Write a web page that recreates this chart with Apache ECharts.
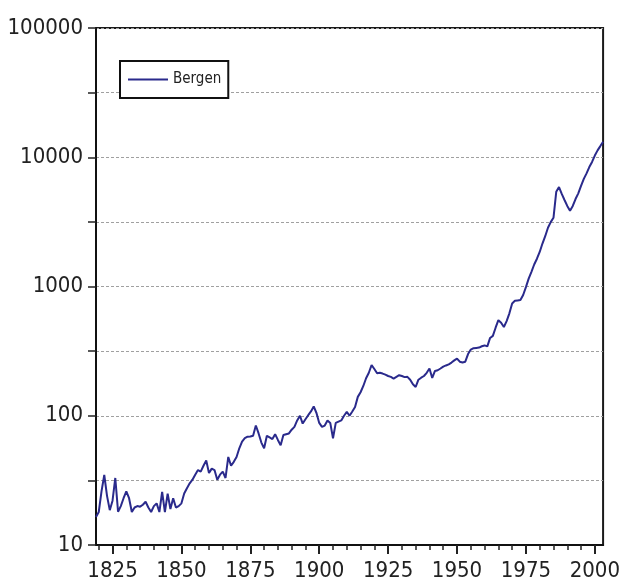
<!DOCTYPE html>
<html>
<head>
<meta charset="utf-8">
<script src="https://cdn.jsdelivr.net/npm/echarts@6/dist/echarts.min.js"></script>
<style>
html,body{margin:0;padding:0;background:#fff;}
#c{width:623px;height:586px;}
</style>
</head>
<body>
<div id="c"></div>
<script>
const seriesName = 'Bergen';
const startYear = 1819;
const values = [
  16.5, 18, 26, 34.8, 24, 18.6, 22, 33, 18.1, 20,
  23, 26, 23, 18, 19.5, 20, 19.8, 20.5, 21.6, 19.5,
  18, 20, 21, 18, 25.8, 18, 25, 19, 23, 19.5,
  20, 21, 25, 27.5, 30, 32, 35, 38, 37, 41,
  45, 36, 39, 38, 32, 35, 37, 33, 48, 41,
  44, 48, 56, 63, 67, 68.8, 69, 70, 84, 73,
  62, 56, 70, 68, 66, 72, 65, 59, 71, 72,
  73, 78, 82, 92, 100, 87, 94, 101, 108, 118,
  105, 88, 82, 84, 92, 88, 67, 88, 90, 92,
  100, 107, 100, 108, 117, 140, 152, 170, 195, 215,
  247, 230, 213, 215, 212, 208, 203, 200, 194, 200,
  206, 203, 199, 200, 190, 175, 167, 190, 197, 203,
  215, 232, 196, 222, 225, 232, 240, 245, 250, 258,
  268, 277, 262, 258, 262, 300, 325, 333, 335, 337,
  345, 350, 344, 400, 415, 480, 549, 525, 486, 540,
  620, 740, 775, 780, 785, 860, 990, 1150, 1300, 1480,
  1640, 1850, 2150, 2450, 2850, 3150, 3400, 5400, 5880, 5200,
  4670, 4200, 3860, 4200, 4750, 5260, 6000, 6800, 7500, 8400,
  9200, 10300, 11300, 12200, 13200
];
const years = values.map((v, i) => startYear + i);
const xLabelYears = [1825, 1850, 1875, 1900, 1925, 1950, 1975, 2000];
const xMinorTickYears = [1820,1825,1830,1835,1840,1845,1850,1855,1860,1865,1870,1875,1880,1885,1890,1895,1900,1905,1910,1915,1920,1925,1930,1935,1940,1945,1950,1955,1960,1965,1970,1975,1980,1985,1990,1995,2000];
const yMin = 10, yMax = 100000;

const data = years.map((y, i) => [y, values[i]]);
const font = "'Liberation Sans Narrow', 'DejaVu Sans Condensed', 'Liberation Sans', sans-serif";

const chart = echarts.init(document.getElementById('c'), null, {renderer: 'canvas'});
chart.setOption({
  animation: false,
  backgroundColor: '#ffffff',
  grid: {
    left: 96, top: 28, right: 18, bottom: 41,
    show: true, borderColor: '#1a1a1a', borderWidth: 2, backgroundColor: 'transparent'
  },
  legend: {
    show: true,
    data: [seriesName],
    left: 120, top: 61,
    orient: 'horizontal',
    borderColor: '#111', borderWidth: 2,
    padding: [11, 7, 11, 8],
    backgroundColor: '#fff',
    itemWidth: 40, itemHeight: 2, itemGap: 6,
    icon: 'rect',
    textStyle: {fontFamily: font, fontSize: 15, color: '#222'}
  },
  xAxis: [{
    type: 'value', min: 1819, max: 2003,
    axisLine: {show: true, onZero: false, lineStyle: {color: '#111', width: 2}},
    axisTick: {show: true, inside: false, length: 5, customValues: xMinorTickYears, lineStyle: {color: '#222', width: 1.5}},
    axisLabel: {show: true, customValues: xLabelYears, margin: 15, fontFamily: font, fontSize: 22, color: '#222',
      formatter: v => String(v)},
    splitLine: {show: false}
  }, {
    type: 'value', min: 1819, max: 2003, position: 'bottom', offset: 0,
    axisLine: {show: false},
    axisTick: {show: true, inside: false, length: 9, customValues: xLabelYears, lineStyle: {color: '#222', width: 2}},
    axisLabel: {show: false},
    splitLine: {show: false}
  }],
  yAxis: {
    type: 'log', logBase: 10, min: yMin, max: yMax, interval: 0.5,
    axisLine: {show: true, lineStyle: {color: '#111', width: 2}},
    axisTick: {show: true, inside: false, length: 8, lineStyle: {color: '#222', width: 1.5}},
    axisLabel: {
      show: true, margin: 13, fontFamily: font, fontSize: 22, color: '#222',
      verticalAlign: 'middle', padding: [0, 0, 5, 0],
      formatter: function (v) {
        const e = Math.log10(v);
        if (Math.abs(e - Math.round(e)) < 1e-6) return String(Math.round(Math.pow(10, Math.round(e))));
        return '';
      }
    },
    splitLine: {show: true, lineStyle: {color: '#a0a0a0', width: 1, type: [3, 2]}}
  },
  series: [{
    name: seriesName,
    type: 'line',
    data: data,
    xAxisIndex: 0,
    symbol: 'none',
    smooth: false,
    lineStyle: {color: '#2a2a8c', width: 2},
    itemStyle: {color: '#2a2a8c'}
  }]
});
</script>
</body>
</html>
